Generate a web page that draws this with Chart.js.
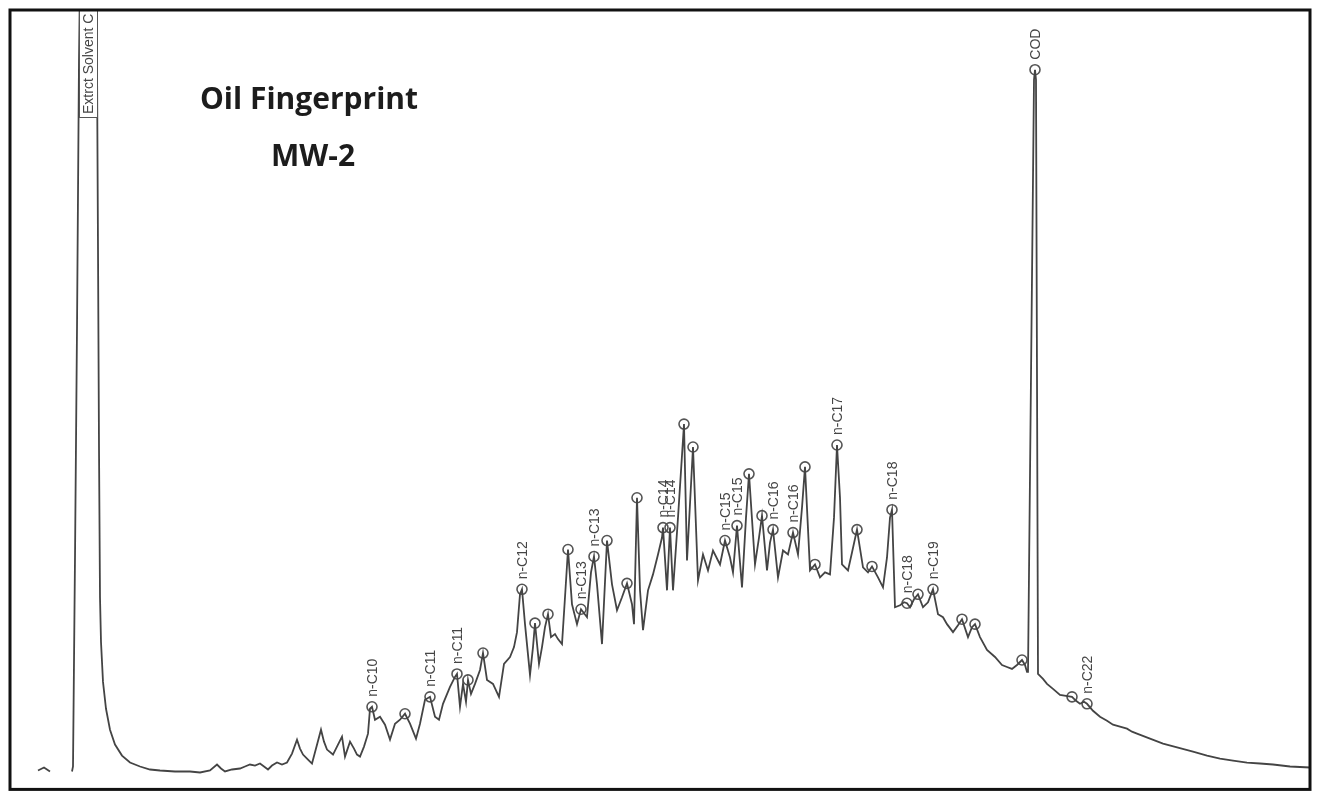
<!DOCTYPE html>
<html>
<head>
<meta charset="utf-8">
<script src="https://cdn.jsdelivr.net/npm/chart.js@4.4.1/dist/chart.umd.min.js"></script>
<style>
  html, body { margin: 0; padding: 0; background: #ffffff; }
  #wrap { width: 1319px; height: 796px; }
</style>
</head>
<body>
<div id="wrap"><canvas id="c" width="1319" height="796"></canvas></div>
<script>
// ---- DATA ----
const titleLines = ["Oil Fingerprint", "MW-2"];

// retention position (scan units) of the detector trace
const rt = [38,44,50,60,
72,73,75,77,79,80,88,96,97,98,99,100,101,103,106,110,115,122,130,140,150,160,175,190,200,210,217,221,225,232,240,245,250,255,260,264,268,272,277,282,287,292,297,300,303,308,312,316,321,324,327,333,338,342,345,350,354,357,360,364,368,370,372,375,380,385,390,395,400,405,410,416,420,425,430,435,439,443,450,455,457,460,463,466,468,471,475,480,483,487,493,499,504,510,514,517,520,522,525,530,533,535,539,542,545,548,551,555,558,562,565,568,572,577,581,587,591,594,597,602,607,612,617,622,627,632,634,637,640,643,648,653,658,662,663,667,670,673,678,684,687,693,698,703,708,713,720,725,730,733,737,742,746,749,755,759,762,767,770,773,778,783,788,793,798,802,805,810,815,820,825,830,834,837,840,842,848,852,857,863,868,872,878,883,887,890,892,895,900,904,907,910,914,918,923,928,933,938,943,947,953,958,962,968,972,975,980,987,995,1002,1007,1012,1017,1022,1025,1027,1028,1034,1035,1036,1038,1043,1047,1053,1060,1066,1072,1076,1080,1084,1087,1093,1100,1107,1113,1120,1127,1132,1137,1150,1163,1178,1193,1207,1220,1233,1247,1260,1273,1290,1310];

// detector signal (arbitrary units) at each rt; null = gap in trace
const signal = [1,4,0,null,
0,5,215,445,715,795,1175,795,715,525,325,175,130,90,63,42,27,16,9,5,2,1,0,0,-1,1,7,3,0,2,3,5,7,6,8,5,2,6,9,7,9,18,32,23,17,12,8,23,42,30,22,17,27,35,15,30,23,17,15,25,38,63,65,52,55,47,32,48,52,58,48,33,48,72,75,55,52,68,85,95,98,65,88,70,92,78,88,102,119,92,88,75,108,115,125,140,178,183,148,97,125,149,108,125,145,158,135,138,133,128,175,223,168,148,163,155,200,216,188,128,232,188,162,175,189,168,148,275,182,142,182,198,218,235,245,182,245,182,255,349,212,326,192,218,202,222,208,232,215,200,247,185,255,299,208,235,257,202,230,243,195,222,218,240,218,265,306,202,208,195,200,198,255,328,275,208,202,220,243,205,200,206,195,185,215,255,263,165,167,170,169,165,173,178,165,170,183,158,155,148,140,147,153,135,145,148,135,122,115,107,105,103,107,112,107,100,100,695,705,695,98,93,88,83,77,76,75,71,68,70,68,61,55,51,47,45,43,40,38,33,28,24,20,16,13,11,9,8,7,5,4];

// integrated peaks (apex rt, apex signal) and their identification labels
const peakRt     = [372,405,430,457,468,483,522,535,548,568,581,594,607,627,637,663,670,684,693,725,737,749,762,773,793,805,815,837,857,872,892,907,918,933,962,975,1022,1035,1072,1087];
const peakSignal = [65,58,75,98,92,119,183,149,158,223,163,216,232,189,275,245,245,349,326,232,247,299,257,243,240,306,208,328,243,206,263,169,178,183,153,148,112,705,75,68];
const peakLabel  = ["n-C10","","n-C11","n-C11","","","n-C12","","","","n-C13","n-C13","","","","n-C14","n-C14","","","n-C15","n-C15","","","n-C16","n-C16","","","n-C17","","","n-C18","n-C18","","n-C19","","","","COD","","n-C22"];

// off-scale solvent peak label
const solventLabel = "Extrct Solvent C";
const solventRt = 88;

// axis extents
const rtMin = 10, rtMax = 1310;
const sigMin = -18, sigMax = 765;

// ---- CHART ----
const traceData = rt.map((x, i) => ({ x: x, y: signal[i] }));
const peakData = peakRt.map((x, i) => ({ x: x, y: peakSignal[i] }));

const overlay = {
  id: 'overlay',
  afterDatasetsDraw(chart) {
    const ctx = chart.ctx;
    const xs = chart.scales.x, ys = chart.scales.y;
    const a = chart.chartArea;
    ctx.save();
    // peak labels (vertical)
    ctx.fillStyle = '#454545';
    ctx.font = '14px "Liberation Sans", Arial, sans-serif';
    ctx.textAlign = 'left';
    ctx.textBaseline = 'middle';
    peakLabel.forEach((lab, i) => {
      if (!lab) return;
      const px = xs.getPixelForValue(peakRt[i]);
      const py = ys.getPixelForValue(peakSignal[i]);
      ctx.save();
      ctx.translate(px + 1, py - 10);
      ctx.rotate(-Math.PI / 2);
      ctx.fillText(lab, 0, 0);
      ctx.restore();
    });
    // solvent label box
    const sx = xs.getPixelForValue(solventRt);
    ctx.fillStyle = '#ffffff';
    ctx.fillRect(sx - 8, a.top + 1, 17, 106);
    ctx.strokeStyle = '#555';
    ctx.lineWidth = 1;
    ctx.strokeRect(sx - 8.5, a.top + 0.5, 18, 107);
    ctx.fillStyle = '#454545';
    ctx.save();
    ctx.translate(sx + 1, a.top + 104);
    ctx.rotate(-Math.PI / 2);
    ctx.fillText(solventLabel, 0, 0);
    ctx.restore();
    // title
    ctx.fillStyle = '#1c1c1c';
    ctx.font = 'bold 30px "Open Sans", Lato, sans-serif';
    ctx.textAlign = 'center';
    ctx.textBaseline = 'alphabetic';
    ctx.fillText(titleLines[0], a.left + 299, a.top + 99);
    ctx.fillText(titleLines[1], a.left + 303, a.top + 156);
    // frame
    ctx.strokeStyle = '#111';
    ctx.lineWidth = 3;
    ctx.strokeRect(a.left, a.top, a.right - a.left, a.bottom - a.top);
    ctx.restore();
  }
};

new Chart(document.getElementById('c'), {
  type: 'scatter',
  data: {
    datasets: [
      {
        label: 'trace',
        data: traceData,
        showLine: true,
        spanGaps: false,
        borderColor: '#444444',
        borderWidth: 1.8,
        pointRadius: 0,
        tension: 0
      },
      {
        label: 'peaks',
        data: peakData,
        showLine: false,
        pointStyle: 'circle',
        pointRadius: 5,
        borderColor: '#555555',
        borderWidth: 1.6,
        backgroundColor: 'rgba(0,0,0,0)'
      }
    ]
  },
  options: {
    responsive: false,
    animation: false,
    devicePixelRatio: 1,
    layout: { padding: { left: 10, top: 10, right: 9, bottom: 3 } },
    plugins: { legend: { display: false }, tooltip: { enabled: false }, title: { display: false } },
    scales: {
      x: { type: 'linear', min: rtMin, max: rtMax, display: false },
      y: { type: 'linear', min: sigMin, max: sigMax, display: false }
    }
  },
  plugins: [overlay]
});
</script>
</body>
</html>
